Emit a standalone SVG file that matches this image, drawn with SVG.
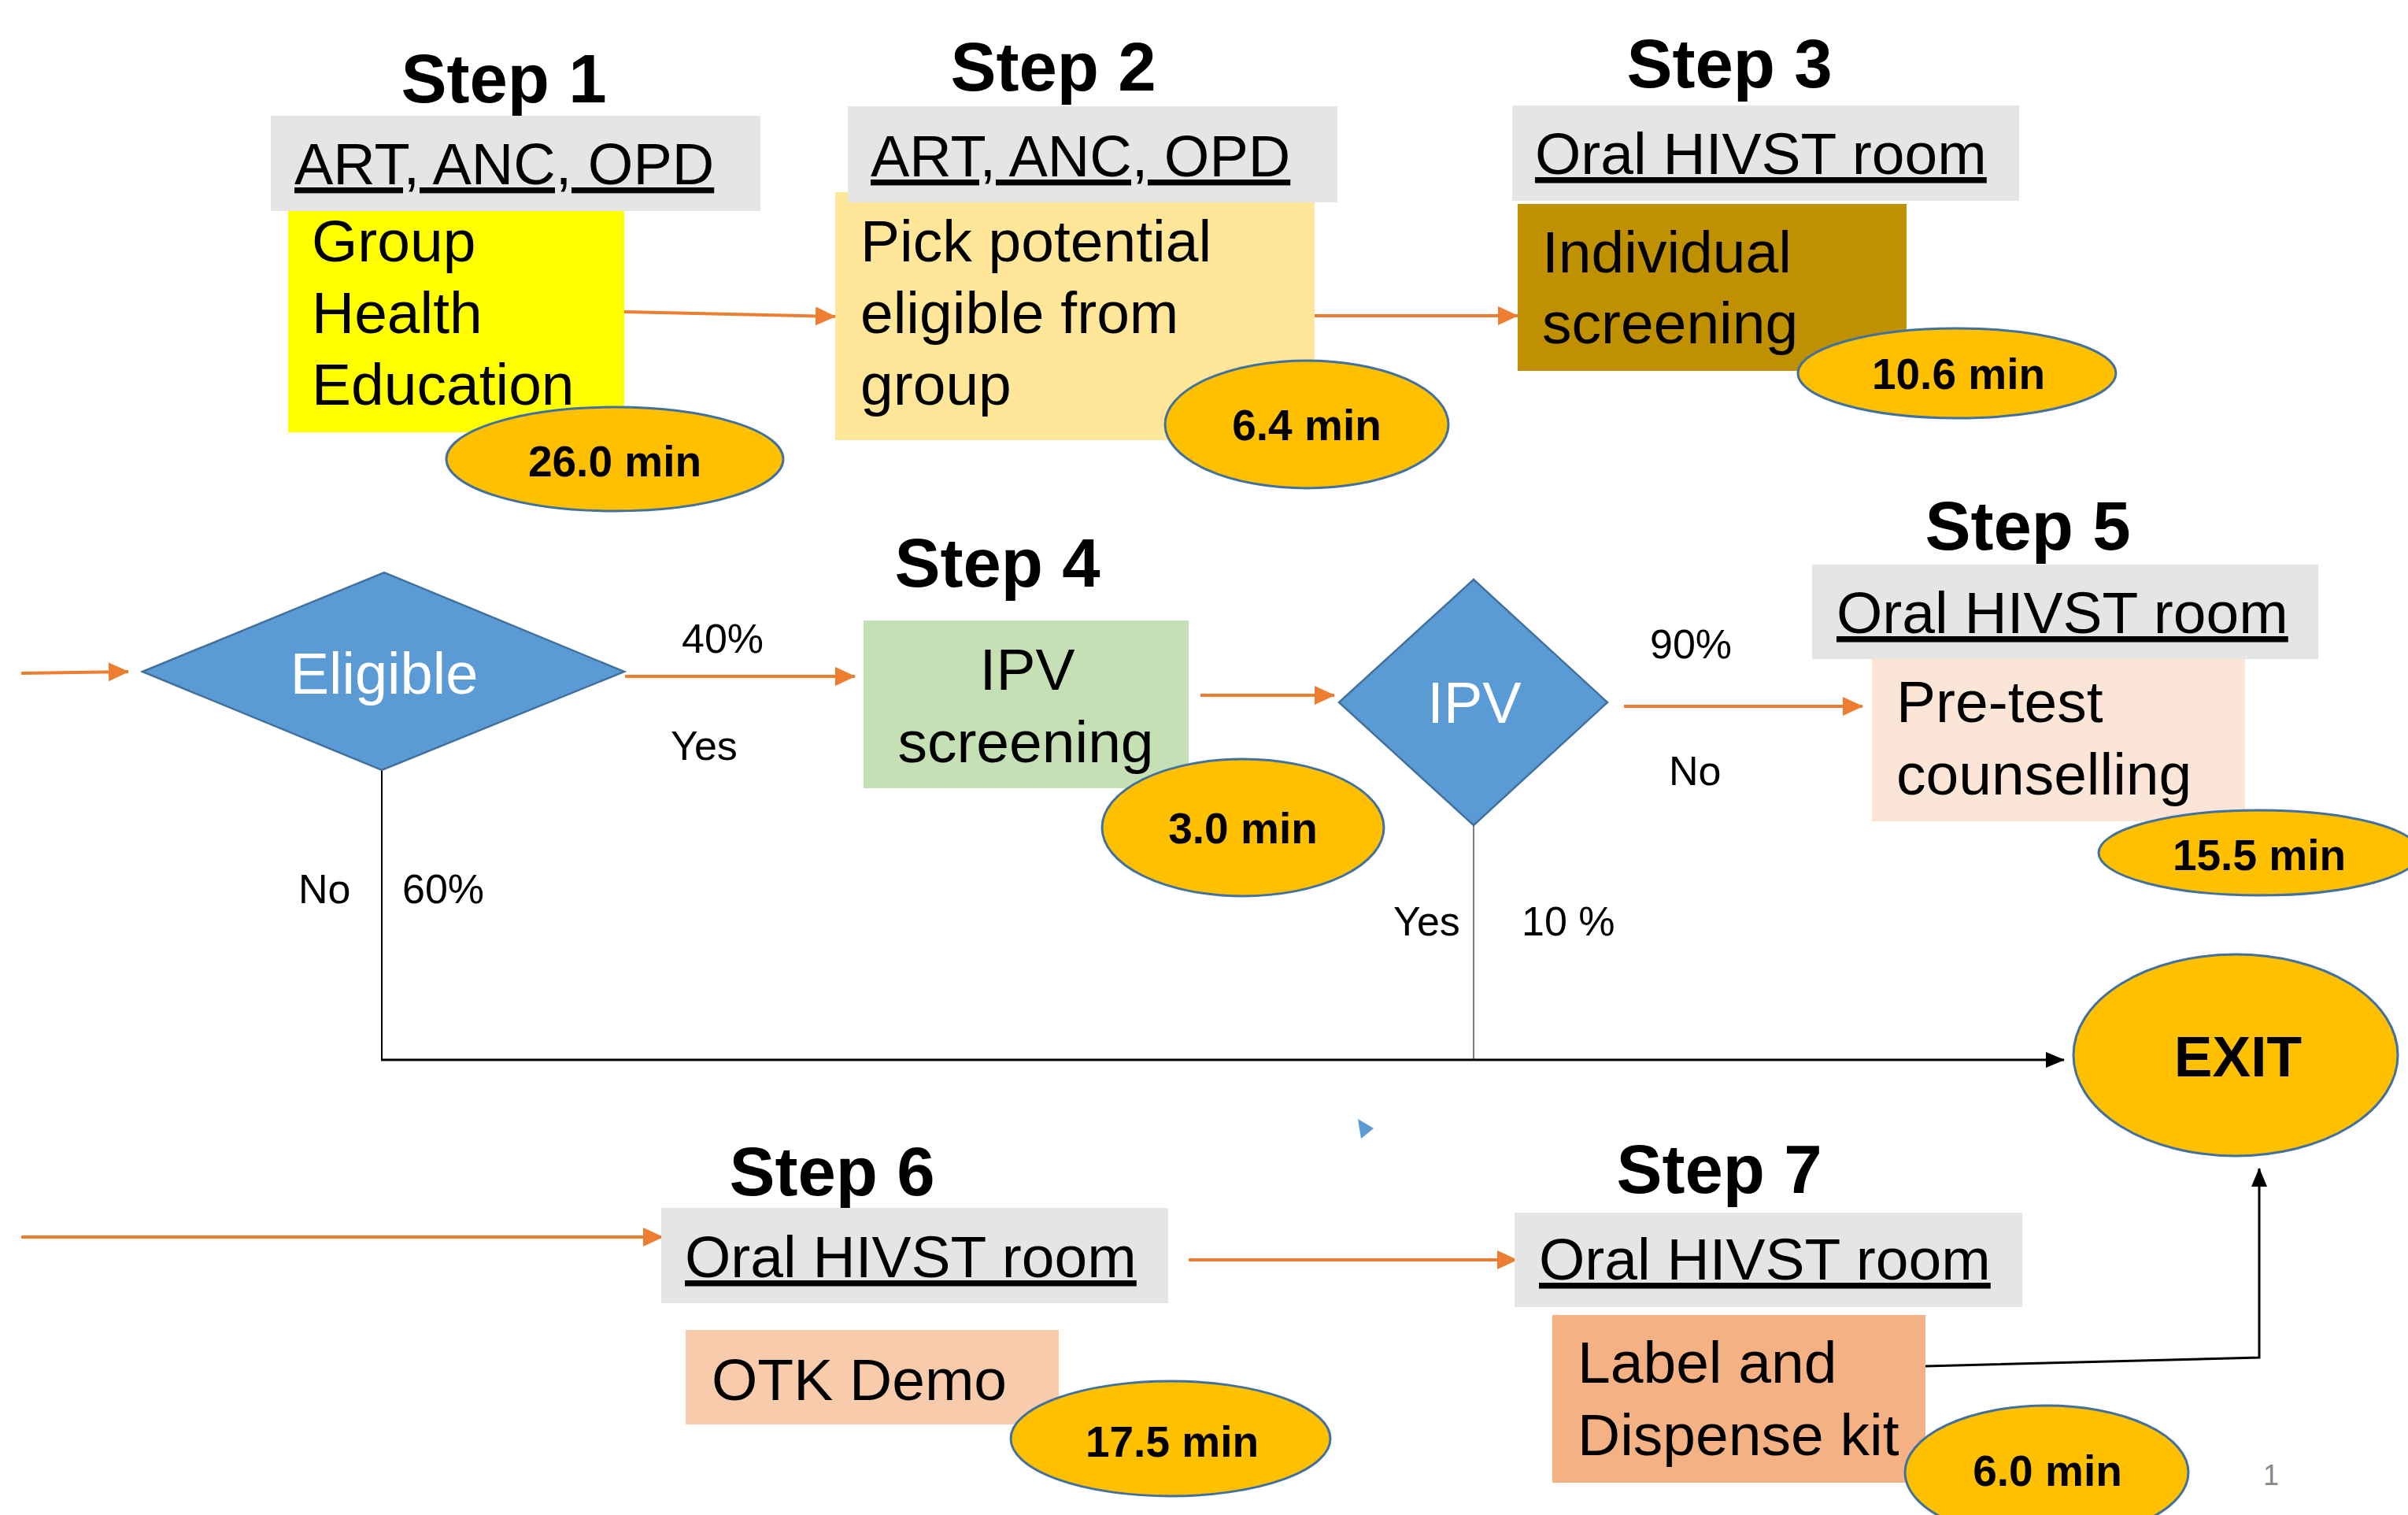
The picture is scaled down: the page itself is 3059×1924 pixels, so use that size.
<svg xmlns="http://www.w3.org/2000/svg" width="3059" height="1924" viewBox="0 0 3059 1924">
<defs>
<style>
text{font-family:"Liberation Sans",Arial,sans-serif;fill:#000}
.step{font-size:87px;font-weight:bold;text-anchor:middle}
.loc{font-size:75px;text-decoration:underline}
.body{font-size:75px}
.min{font-size:55px;font-weight:bold;text-anchor:middle}
.lbl{font-size:52px}
.gray{fill:#E5E5E5}
.time{fill:#FFC000;stroke:#41719C;stroke-width:3}
.dia{fill:#5B9BD5;stroke:#41719C;stroke-width:2.5}
.wt{fill:#FFFFFF;font-size:74px;text-anchor:middle}
.oa{stroke:#ED7D31;stroke-width:4;fill:none;marker-end:url(#oh)}
.ka{stroke:#000;stroke-width:3;fill:none;marker-end:url(#kh)}
</style>
<marker id="oh" markerUnits="userSpaceOnUse" markerWidth="26" markerHeight="26" refX="25" refY="12" orient="auto"><path d="M0,0 L26,12 L0,24 z" fill="#ED7D31"/></marker>
<marker id="kh" markerUnits="userSpaceOnUse" markerWidth="24" markerHeight="24" refX="23" refY="10" orient="auto"><path d="M0,0 L24,10 L0,20 z" fill="#000"/></marker>
</defs>
<rect width="3059" height="1924" fill="#FFFFFF"/>

<g id="connectors">
<path class="oa" d="M793,396 L1061,402"/>
<path class="oa" d="M1670,401 L1928,401"/>
<path class="oa" d="M27,855 L163,853"/>
<path class="oa" d="M794,859 L1086,859"/>
<path class="oa" d="M1525,883 L1695,883"/>
<path class="oa" d="M2063,897 L2366,897"/>
<path class="oa" d="M27,1571 L842,1571"/>
<path class="oa" d="M1510,1600 L1927,1600"/>
<path d="M485,978 L485,1346" stroke="#000" stroke-width="2" fill="none"/>
<path d="M1872,1048 L1872,1346" stroke="#7F7F7F" stroke-width="2" fill="none"/>
<path class="ka" d="M484,1346 L2622,1346"/>
<path class="ka" d="M2446,1735 L2870,1724 L2870,1484"/>
<polygon points="1725,1421 1745,1433 1729,1446" fill="#5B9BD5"/>
</g>

<g id="step1">
<text class="step" x="640" y="130">Step 1</text>
<rect class="gray" x="344" y="147" width="622" height="121"/>
<text class="loc" x="374" y="234" style="font-size:74px">ART, ANC, OPD</text>
<rect x="366" y="268" width="427" height="281" fill="#FFFF00"/>
<text class="body" x="396" y="332">Group</text>
<text class="body" x="396" y="423">Health</text>
<text class="body" x="396" y="514">Education</text>
<ellipse class="time" cx="781" cy="583" rx="214" ry="66"/>
<text class="min" x="781" y="605">26.0 min</text>
</g>

<g id="step2">
<text class="step" x="1338" y="115">Step 2</text>
<rect x="1061" y="244" width="609" height="315" fill="#FFE699"/>
<rect class="gray" x="1077" y="135" width="622" height="122"/>
<text class="loc" x="1106" y="224" style="font-size:74px">ART, ANC, OPD</text>
<text class="body" x="1093" y="332">Pick potential</text>
<text class="body" x="1093" y="423">eligible from</text>
<text class="body" x="1093" y="514">group</text>
<ellipse class="time" cx="1660" cy="539" rx="180" ry="81"/>
<text class="min" x="1660" y="559">6.4 min</text>
</g>

<g id="step3">
<text class="step" x="2197" y="111">Step 3</text>
<rect class="gray" x="1921" y="134" width="644" height="121"/>
<text class="loc" x="1950" y="221">Oral HIVST room</text>
<rect x="1928" y="259" width="494" height="212" fill="#BF9000"/>
<text class="body" x="1959" y="346">Individual</text>
<text class="body" x="1959" y="436">screening</text>
<ellipse class="time" cx="2486" cy="474" rx="202" ry="57"/>
<text class="min" x="2488" y="494">10.6 min</text>
</g>

<g id="eligible">
<polygon class="dia" points="181,853 488,727 793,853 485,978"/>
<text class="wt" x="488" y="881">Eligible</text>
<text class="lbl" x="866" y="829">40%</text>
<text class="lbl" x="852" y="965">Yes</text>
<text class="lbl" x="379" y="1147">No</text>
<text class="lbl" x="511" y="1147">60%</text>
</g>

<g id="step4">
<text class="step" x="1267" y="745">Step 4</text>
<rect x="1097" y="788" width="413" height="213" fill="#C5E0B4"/>
<text class="body" x="1305" y="876" text-anchor="middle">IPV</text>
<text class="body" x="1303" y="968" text-anchor="middle">screening</text>
<ellipse class="time" cx="1579" cy="1051" rx="179" ry="87"/>
<text class="min" x="1579" y="1071">3.0 min</text>
</g>

<g id="ipv">
<polygon class="dia" points="1701,892 1872,736 2042,892 1872,1048"/>
<text class="wt" x="1873" y="918">IPV</text>
<text class="lbl" x="2096" y="836">90%</text>
<text class="lbl" x="2120" y="997">No</text>
<text class="lbl" x="1770" y="1188">Yes</text>
<text class="lbl" x="1933" y="1188">10 %</text>
</g>

<g id="step5">
<text class="step" x="2576" y="698">Step 5</text>
<rect class="gray" x="2302" y="717" width="643" height="120"/>
<text class="loc" x="2333" y="804">Oral HIVST room</text>
<rect x="2378" y="837" width="474" height="206" fill="#FBE5D6"/>
<text class="body" x="2409" y="917">Pre-test</text>
<text class="body" x="2409" y="1009">counselling</text>
<ellipse class="time" cx="2870" cy="1083" rx="204" ry="54"/>
<text class="min" x="2870" y="1105">15.5 min</text>
</g>

<g id="exit">
<ellipse class="time" cx="2840" cy="1340" rx="206" ry="128"/>
<text x="2843" y="1367" font-size="73" font-weight="bold" text-anchor="middle">EXIT</text>
</g>

<g id="step6">
<text class="step" x="1057" y="1518">Step 6</text>
<rect class="gray" x="840" y="1534" width="644" height="121"/>
<text class="loc" x="870" y="1622">Oral HIVST room</text>
<rect x="871" y="1689" width="474" height="120" fill="#F8CBAD"/>
<text class="body" x="904" y="1778">OTK Demo</text>
<ellipse class="time" cx="1487" cy="1827" rx="203" ry="73"/>
<text class="min" x="1489" y="1850">17.5 min</text>
</g>

<g id="step7">
<text class="step" x="2184" y="1515">Step 7</text>
<rect class="gray" x="1924" y="1540" width="645" height="120"/>
<text class="loc" x="1955" y="1625">Oral HIVST room</text>
<rect x="1972" y="1670" width="474" height="213" fill="#F4B183"/>
<text class="body" x="2004" y="1756">Label and</text>
<text class="body" x="2004" y="1848">Dispense kit</text>
<ellipse class="time" cx="2600" cy="1870" rx="180" ry="85"/>
<text class="min" x="2601" y="1887">6.0 min</text>
</g>

<text x="2875" y="1886" font-size="36" style="fill:#888888">1</text>
</svg>
